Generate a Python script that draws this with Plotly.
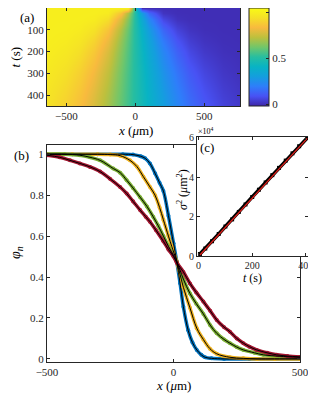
import plotly.graph_objects as go

# ---------------- data ----------------
# (a) heatmap: phi(x, t)
x_hm = [-640, -500, -400, -300, -200, -100, -50, 0, 50, 100, 200, 300, 400, 500, 640, 760]
t_hm = [0, 25, 50, 100, 150, 200, 300, 400, 450]
z_hm = [
    [1.0, 1.0, 1.0, 1.0, 1.0, 1.0, 1.0, 0.5, 0.0, 0.0, 0.0, 0.0, 0.0, 0.0, 0.0, 0.0],
    [1.0, 1.0, 1.0, 0.999, 0.985, 0.862, 0.706, 0.5, 0.294, 0.138, 0.015, 0.001, 0.0, 0.0, 0.0, 0.0],
    [1.0, 1.0, 0.999, 0.99, 0.938, 0.779, 0.65, 0.5, 0.35, 0.221, 0.062, 0.01, 0.001, 0.0, 0.0, 0.0],
    [1.0, 0.997, 0.985, 0.948, 0.862, 0.706, 0.607, 0.5, 0.393, 0.294, 0.138, 0.052, 0.015, 0.003, 0.0, 0.0],
    [0.998, 0.987, 0.962, 0.908, 0.813, 0.671, 0.588, 0.5, 0.412, 0.329, 0.187, 0.092, 0.038, 0.013, 0.002, 0.0],
    [0.993, 0.973, 0.938, 0.875, 0.779, 0.65, 0.576, 0.5, 0.424, 0.35, 0.221, 0.125, 0.062, 0.027, 0.007, 0.002],
    [0.978, 0.942, 0.896, 0.827, 0.736, 0.623, 0.562, 0.5, 0.438, 0.377, 0.264, 0.173, 0.104, 0.058, 0.022, 0.008],
    [0.959, 0.913, 0.862, 0.792, 0.706, 0.607, 0.554, 0.5, 0.446, 0.393, 0.294, 0.208, 0.138, 0.087, 0.041, 0.02],
    [0.95, 0.9, 0.848, 0.779, 0.695, 0.601, 0.551, 0.5, 0.449, 0.399, 0.305, 0.221, 0.152, 0.1, 0.051, 0.026],
]

# (b) profiles phi_n(x)
x_blue = [-500, -400, -300, -200, -160, -130, -112, -93, -73, -55, -40, -20, 0, 13, 26, 39, 58, 75, 92, 110, 125, 150, 200, 300, 400, 500]
p_blue = [1.0, 1.0, 1.0, 1.0, 0.998, 0.99, 0.98, 0.955, 0.907, 0.86, 0.82, 0.70, 0.565, 0.475, 0.37, 0.255, 0.14, 0.08, 0.044, 0.02, 0.008, 0.003, 0.0, 0.0, 0.0, 0.0]

x_yel = [-500, -400, -300, -250, -211, -172, -145, -119, -93, -73, -55, -40, -20, -7, 13, 39, 65, 92, 118, 144, 171, 223, 276, 330, 400, 500]
p_yel = [1.0, 1.0, 1.0, 0.998, 0.993, 0.97, 0.94, 0.89, 0.84, 0.80, 0.74, 0.68, 0.60, 0.55, 0.475, 0.35, 0.25, 0.15, 0.095, 0.05, 0.025, 0.008, 0.003, 0.0, 0.0, 0.0]

x_grn = [-500, -430, -370, -330, -290, -238, -211, -185, -160, -132, -105, -80, -60, -40, -20, 0, 13, 39, 65, 90, 118, 145, 171, 200, 223, 250, 276, 320, 355, 420, 500]
p_grn = [1.0, 1.0, 0.995, 0.985, 0.97, 0.93, 0.91, 0.873, 0.835, 0.79, 0.745, 0.694, 0.65, 0.60, 0.55, 0.505, 0.475, 0.39, 0.32, 0.27, 0.22, 0.165, 0.125, 0.095, 0.077, 0.058, 0.044, 0.03, 0.02, 0.013, 0.008]

x_red = [-500, -450, -409, -370, -330, -290, -251, -211, -185, -160, -132, -110, -93, -70, -40, -20, 0, 13, 39, 65, 90, 118, 145, 171, 200, 223, 250, 276, 300, 329, 370, 408, 450, 500]
p_red = [0.995, 0.985, 0.97, 0.955, 0.938, 0.915, 0.88, 0.84, 0.808, 0.77, 0.727, 0.695, 0.67, 0.63, 0.575, 0.535, 0.50, 0.47, 0.425, 0.369, 0.325, 0.28, 0.235, 0.19, 0.155, 0.133, 0.10, 0.077, 0.06, 0.044, 0.03, 0.02, 0.014, 0.01]

# (c) variance vs time (um^2)
t_c = [5, 25, 50, 75, 100, 125, 150, 175, 200, 225, 250, 275, 300, 325, 350, 375, 405]
s2_c = [1000, 3800, 7500, 11200, 15000, 18600, 22400, 26200, 30000, 33700, 37400, 41100, 44800, 48500, 52200, 55800, 60000]
t_fit = [5, 405]
s2_fit = [500, 59800]

# ---------------- style ----------------
OFF = 8  # page body margin
W, H = 316 - OFF, 393 - OFF
FONT = "'Liberation Serif', 'Times New Roman', serif"
AX = "#262626"

def px(x):
    return (x - OFF) / W

def py(y):
    return 1 - (y - OFF) / H

parula = [
    [0.00, "rgb(62,38,168)"],
    [0.10, "rgb(72,82,244)"],
    [0.20, "rgb(46,126,250)"],
    [0.30, "rgb(20,158,222)"],
    [0.40, "rgb(8,179,196)"],
    [0.50, "rgb(39,190,160)"],
    [0.60, "rgb(113,198,106)"],
    [0.70, "rgb(189,192,61)"],
    [0.80, "rgb(248,186,62)"],
    [0.90, "rgb(245,224,39)"],
    [1.00, "rgb(249,251,21)"],
]

fig = go.Figure()

fig.add_trace(go.Heatmap(
    x=x_hm, y=t_hm, z=z_hm, zsmooth="best", colorscale=parula,
    zmin=-0.02, zmax=1.05, xaxis="x", yaxis="y",
    colorbar=dict(
        x=px(249), xanchor="left", y=py(57), yanchor="middle",
        len=98 / H, lenmode="fraction", thickness=20, thicknessmode="pixels",
        outlinecolor=AX, outlinewidth=1, ticks="inside", ticklen=3,
        tickcolor=AX, tickvals=[0, 0.5, 1], ticktext=["0", "0.5", "1"],
        tickfont=dict(family=FONT, size=11, color=AX), xpad=0, ypad=0,
    ),
    showscale=True,
))

series = [
    (x_blue, p_blue, "#0072BD"),
    (x_yel, p_yel, "#EDB120"),
    (x_grn, p_grn, "#77AC30"),
    (x_red, p_red, "#A2142F"),
]
for xs, ps, col in series:
    fig.add_trace(go.Scatter(
        x=xs, y=ps, mode="lines+markers", xaxis="x2", yaxis="y2",
        line=dict(color=col, width=3.5, shape="spline"),
        marker=dict(color=col, size=4), showlegend=False, cliponaxis=True,
    ))
for xs, ps, col in series:
    fig.add_trace(go.Scatter(
        x=xs, y=ps, mode="lines", xaxis="x2", yaxis="y2",
        line=dict(color="black", width=1, shape="spline"), showlegend=False,
    ))

fig.add_trace(go.Scatter(
    x=t_c, y=s2_c, mode="lines+markers", xaxis="x3", yaxis="y3",
    line=dict(color="black", width=3.5), marker=dict(color="black", size=4, symbol="square"),
    showlegend=False, cliponaxis=False,
))
fig.add_trace(go.Scatter(
    x=t_fit, y=s2_fit, mode="lines", xaxis="x3", yaxis="y3",
    line=dict(color="#E0201B", width=1.3), showlegend=False, cliponaxis=False,
))

tickfont = dict(family=FONT, size=11, color=AX)
common = dict(showline=True, linecolor=AX, linewidth=1, mirror="allticks",
              ticks="inside", ticklen=3, tickcolor=AX, tickfont=tickfont,
              showgrid=False, zeroline=False, automargin=False)
small = {**common, "tickfont": dict(family=FONT, size=10, color=AX)}

fig.update_layout(
    width=W, height=H, margin=dict(l=0, r=0, t=0, b=0),
    paper_bgcolor="white", plot_bgcolor="white", showlegend=False,
    font=dict(family=FONT, color=AX),
    xaxis=dict(domain=[px(47), px(240)], range=[-640, 760], anchor="y",
               tickvals=[-500, 0, 500], **common),
    yaxis=dict(domain=[py(106), py(8)], range=[450, 0], anchor="x",
               tickvals=[100, 200, 300, 400], **common),
    xaxis2=dict(domain=[px(47), px(300)], range=[-500, 500], anchor="y2",
                tickvals=[-500, 0, 500], **common),
    yaxis2=dict(domain=[py(362), py(145)], range=[-0.015, 1.045], anchor="x2",
                tickvals=[0, 0.2, 0.4, 0.6, 0.8, 1], ticktext=["0", "0.2", "0.4", "0.6", "0.8", "1"],
                **common),
    xaxis3=dict(domain=[px(197), px(308)], range=[-6, 408], anchor="y3",
                tickvals=[0, 200, 400], **small),
    yaxis3=dict(domain=[py(256), py(137)], range=[0, 60500], anchor="x3",
                tickvals=[0, 20000, 40000, 60000], ticktext=["0", "2", "4", "6"], **small),
)

def ann(text, x, y, size=13, angle=0):
    fig.add_annotation(text=text, x=px(x), y=py(y), xref="paper", yref="paper",
                       showarrow=False, textangle=angle, xanchor="center", yanchor="middle",
                       font=dict(family=FONT, size=size, color="black"))

ann("(a)", 27, 17)
ann("<i>t</i> (s)", 15.5, 57, angle=-90)
ann("<i>x</i> (<i>μ</i>m)", 135, 130)
ann("(b)", 21, 155)
ann("<i>φ</i><sub><i>n</i></sub>", 16, 253, size=14, angle=-90)
ann("<i>x</i> (<i>μ</i>m)", 173, 385)
ann("(c)", 207, 147)
ann("<i>σ</i><sup>2</sup> (<i>μ</i>m<sup>2</sup>)", 183, 190, size=12, angle=-90)
ann("<i>t</i> (s)", 252, 278, size=12)
ann("×10<sup>4</sup>", 206, 131, size=8)

fig.write_html("out.html")
